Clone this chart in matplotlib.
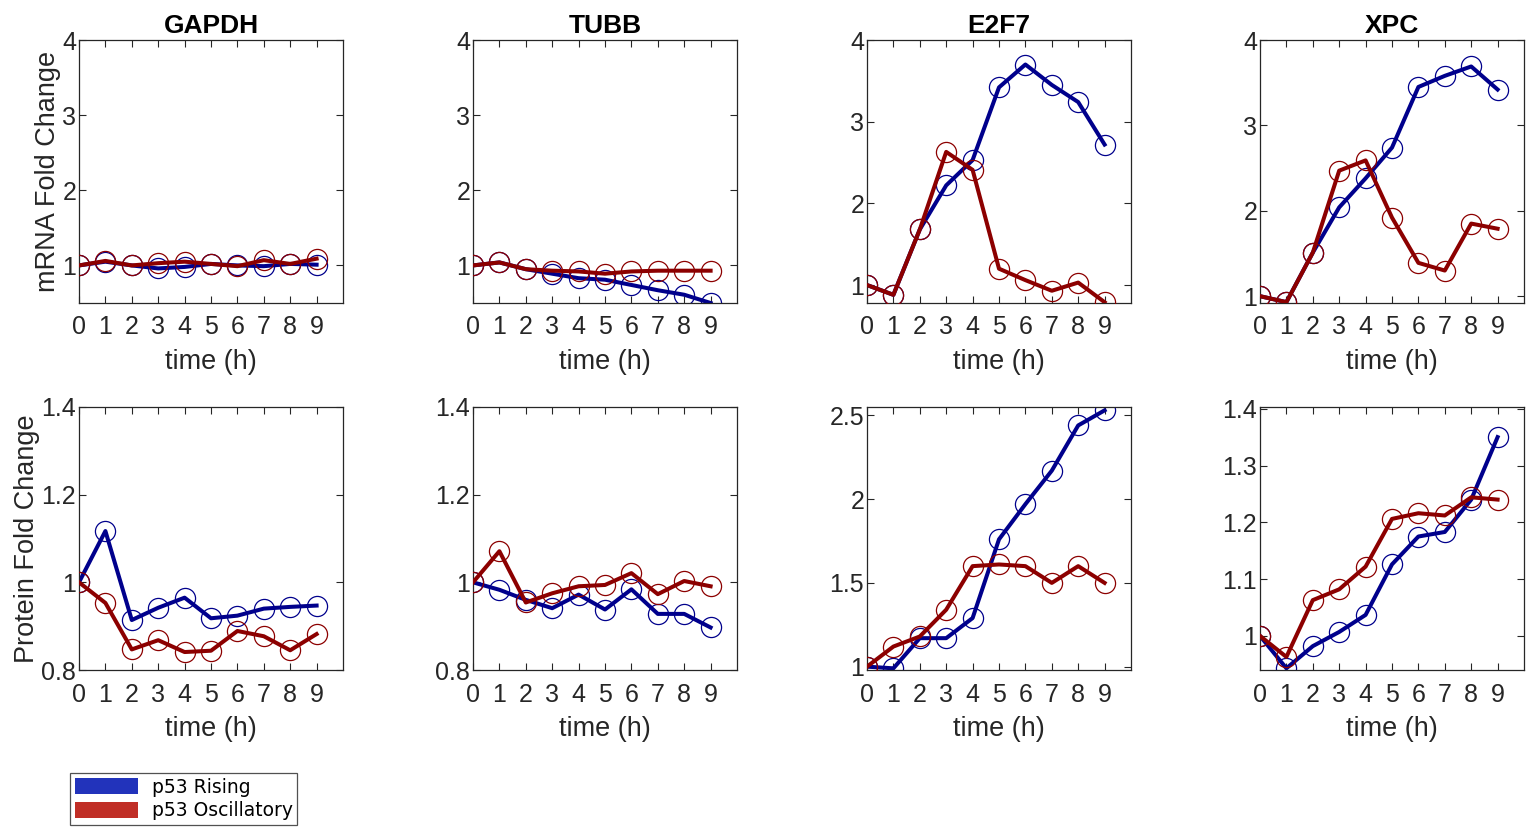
import matplotlib.pyplot as plt
from matplotlib.patches import Patch
import numpy as np

# time points (h)
t = [0, 1, 2, 3, 4, 5, 6, 7, 8, 9]
genes = ["GAPDH", "TUBB", "E2F7", "XPC"]

# mRNA fold change
mrna_rising = {
    "GAPDH": [1.0, 1.05, 1.0, 0.96, 0.98, 1.02, 1.0, 0.99, 1.02, 1.01],
    "TUBB":  [1.0, 1.04, 0.95, 0.89, 0.83, 0.81, 0.74, 0.67, 0.61, 0.50],
    "E2F7":  [1.0, 0.88, 1.68, 2.22, 2.53, 3.42, 3.70, 3.45, 3.24, 2.72],
    "XPC":   [1.0, 0.93, 1.51, 2.04, 2.38, 2.74, 3.45, 3.58, 3.69, 3.42],
}
mrna_osc = {
    "GAPDH": [1.0, 1.06, 1.0, 1.03, 1.05, 1.02, 0.99, 1.07, 1.02, 1.09],
    "TUBB":  [1.0, 1.04, 0.95, 0.93, 0.92, 0.89, 0.92, 0.93, 0.93, 0.93],
    "E2F7":  [1.0, 0.88, 1.68, 2.63, 2.41, 1.20, 1.06, 0.93, 1.03, 0.79],
    "XPC":   [1.0, 0.93, 1.51, 2.47, 2.59, 1.92, 1.39, 1.30, 1.85, 1.79],
}

# protein fold change
prot_rising = {
    "GAPDH": [1.0, 1.117, 0.914, 0.942, 0.965, 0.918, 0.924, 0.940, 0.944, 0.947],
    "TUBB":  [1.0, 0.983, 0.960, 0.941, 0.972, 0.938, 0.984, 0.928, 0.928, 0.897],
    "E2F7":  [1.0, 0.99, 1.17, 1.17, 1.29, 1.76, 1.97, 2.17, 2.44, 2.53],
    "XPC":   [1.0, 0.943, 0.982, 1.007, 1.037, 1.126, 1.175, 1.183, 1.240, 1.350],
}
prot_osc = {
    "GAPDH": [1.0, 0.953, 0.847, 0.868, 0.841, 0.844, 0.889, 0.877, 0.845, 0.882],
    "TUBB":  [1.0, 1.071, 0.954, 0.975, 0.991, 0.994, 1.021, 0.973, 1.003, 0.991],
    "E2F7":  [1.0, 1.12, 1.18, 1.34, 1.60, 1.61, 1.60, 1.50, 1.60, 1.50],
    "XPC":   [1.0, 0.963, 1.063, 1.082, 1.122, 1.206, 1.216, 1.212, 1.244, 1.240],
}

mrna_ylim = {"GAPDH": (0.5, 4), "TUBB": (0.5, 4), "E2F7": (0.78, 4), "XPC": (0.92, 4)}
prot_ylim = {"GAPDH": (0.8, 1.4), "TUBB": (0.8, 1.4), "E2F7": (0.98, 2.55), "XPC": (0.94, 1.403)}
mrna_yticks = [1, 2, 3, 4]
prot_yticks = {"GAPDH": [0.8, 1.0, 1.2, 1.4], "TUBB": [0.8, 1.0, 1.2, 1.4],
               "E2F7": [1, 1.5, 2, 2.5], "XPC": [1, 1.1, 1.2, 1.3, 1.4]}

blue = "#00008C"
red = "#8C0000"
grey = "#262626"

plt.rcParams['font.family'] = ['Liberation Sans', 'DejaVu Sans']

fig = plt.figure(figsize=(15.26, 8.27), dpi=100)
lefts = [79, 473, 867, 1260]
W, H = 1526, 827


def style_ax(ax, yticks, ylim):
    ax.set_xlim(0, 10)
    ax.set_xticks(t)
    ax.set_ylim(*ylim)
    ax.set_yticks(yticks)
    ax.set_yticklabels(["%g" % v for v in yticks])
    ax.tick_params(direction="in", top=True, right=True, length=5, width=0.8,
                   labelsize=18, colors=grey)
    ax.tick_params(axis="x", pad=9)
    ax.tick_params(axis="y", pad=2)
    for sp in ax.spines.values():
        sp.set_color(grey)
        sp.set_linewidth(0.9)
    ax.set_xlabel("time (h)", fontsize=19.5, color=grey, labelpad=7)


for i, g in enumerate(genes):
    # top: mRNA
    ax = fig.add_axes([lefts[i] / W, 1 - 303 / H, 264 / W, 263 / H])
    ax.plot(t, mrna_rising[g], color=blue, lw=2.9, zorder=2)
    ax.plot(t, mrna_rising[g], 'o', mfc='none', mec=blue, ms=14.5, mew=0.9, zorder=2)
    ax.plot(t, mrna_osc[g], color=red, lw=2.9, zorder=3)
    ax.plot(t, mrna_osc[g], 'o', mfc='none', mec=red, ms=14.5, mew=0.9, zorder=3)
    style_ax(ax, mrna_yticks, mrna_ylim[g])
    ax.set_title(g, fontsize=19, fontweight="bold", pad=5)
    if i == 0:
        ax.set_ylabel("mRNA Fold Change", fontsize=19.5, color=grey, labelpad=1)

    # bottom: protein
    ax = fig.add_axes([lefts[i] / W, 1 - 670 / H, 264 / W, 263 / H])
    ax.plot(t, prot_rising[g], color=blue, lw=2.9, zorder=2)
    ax.plot(t, prot_rising[g], 'o', mfc='none', mec=blue, ms=14.5, mew=0.9, zorder=2)
    ax.plot(t, prot_osc[g], color=red, lw=2.9, zorder=3)
    ax.plot(t, prot_osc[g], 'o', mfc='none', mec=red, ms=14.5, mew=0.9, zorder=3)
    style_ax(ax, prot_yticks[g], prot_ylim[g])
    if i == 0:
        ax.set_ylabel("Protein Fold Change", fontsize=19.5, color=grey, labelpad=1)

handles = [Patch(facecolor="#2233BB", edgecolor="none", label="p53 Rising"),
           Patch(facecolor="#C02E26", edgecolor="none", label="p53 Oscillatory")]
leg = fig.legend(handles=handles, loc="lower left", bbox_to_anchor=(70 / W, 2 / H),
                 prop={'family': 'DejaVu Sans', 'size': 13.5}, fancybox=False,
                 handlelength=3.4, handleheight=0.9, handletextpad=0.7,
                 borderpad=0.25, labelspacing=0.25, borderaxespad=0)
leg.get_frame().set_edgecolor(grey)
leg.get_frame().set_linewidth(0.9)

fig.savefig("out.png", dpi=100)
